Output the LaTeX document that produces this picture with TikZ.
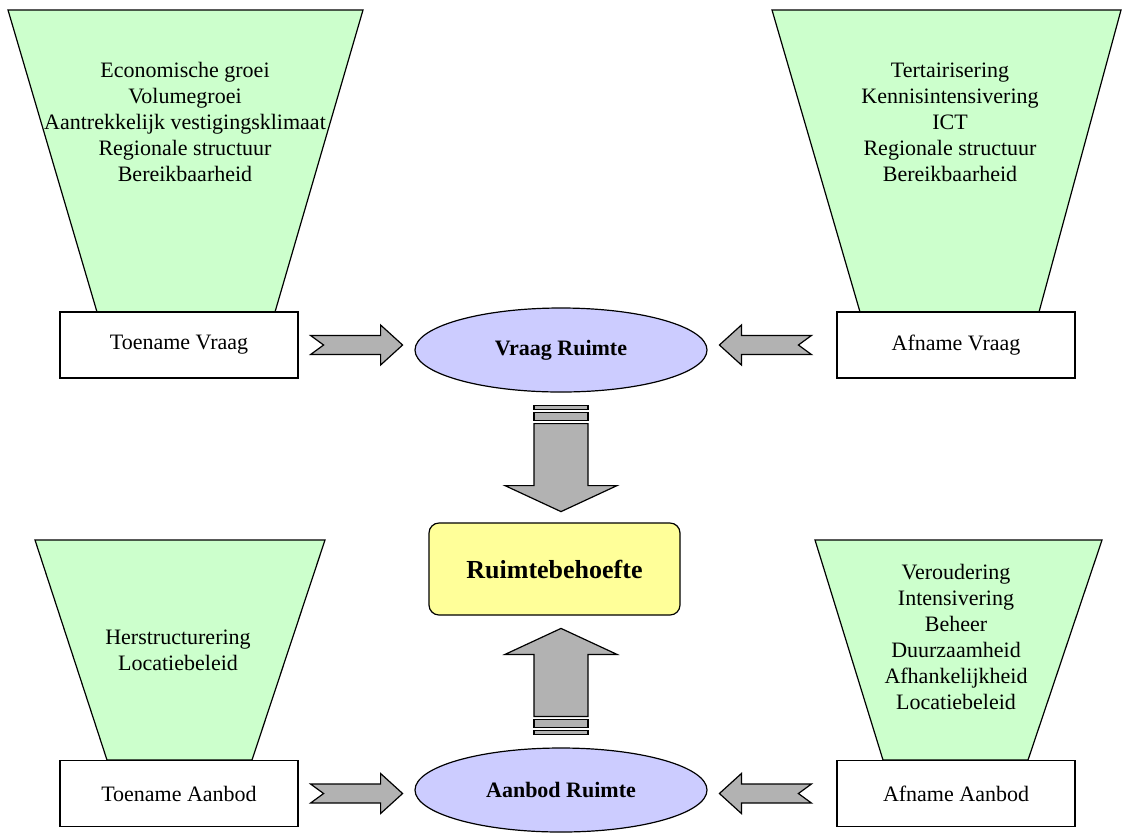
\documentclass[tikz,border=0pt]{standalone}
\usepackage{fontspec}
\setmainfont{Liberation Serif}
\usetikzlibrary{shapes.geometric,calc}
\definecolor{funnelgreen}{HTML}{CCFFCC}
\definecolor{ovalblue}{HTML}{CCCCFF}
\definecolor{boxyellow}{HTML}{FFFF99}
\definecolor{arrgray}{HTML}{B2B2B2}
\tikzset{
  funnel/.style={draw=black, line width=0.6pt, fill=funnelgreen},
  ftext/.style={align=center, font=\fontsize{11}{13}\selectfont, inner sep=0pt},
  rbox/.style={draw=black, line width=0.6pt, fill=white, minimum width=119pt, minimum height=33pt, inner sep=0pt, font=\fontsize{11}{13}\selectfont},
  oval/.style={ellipse, draw=black, line width=0.6pt, fill=ovalblue, minimum width=146pt, minimum height=42pt, inner sep=0pt, font=\fontsize{11}{13}\selectfont\bfseries},
  ybox/.style={draw=black, line width=0.6pt, fill=boxyellow, rounded corners=5pt, minimum width=125.5pt, minimum height=46pt, inner sep=0pt, font=\fontsize{13}{15}\selectfont\bfseries},
  barr/.style={draw=black, line width=0.6pt, fill=arrgray, line join=miter},
  notcharr/.pic={\path[barr] (0,-9.5) -- (70,-9.5) -- (70,-20) -- (92,0) -- (70,20) -- (70,9.5) -- (0,9.5) -- (13,0) -- cycle;},
  stripearr/.pic={
    \path[barr] (-27,0) rectangle (27,4);
    \path[barr] (-27,7) rectangle (27,15);
    \path[barr] (-27,18) -- (27,18) -- (27,80) -- (56,80) -- (0,106) -- (-56,80) -- (-27,80) -- cycle;}
}
\begin{document}
\begin{tikzpicture}[x=0.5pt, y=-0.5pt]
\useasboundingbox (0,0) rectangle (1122,836);
% funnels
\path[funnel] (8,10) -- (363,10) -- (275,312) -- (97,312) -- cycle;
\path[funnel] (772,10) -- (1121,10) -- (1039,312) -- (860,312) -- cycle;
\path[funnel] (35,540) -- (325,540) -- (252,760) -- (107,760) -- cycle;
\path[funnel] (815,540) -- (1102,540) -- (1028,760) -- (883,760) -- cycle;
\node[ftext] (fvt) at (185,122) {Economische groei\\Volumegroei\\Aantrekkelijk vestigingsklimaat\\Regionale structuur\\Bereikbaarheid};
\node[ftext] (fva) at (950,122) {Tertairisering\\Kennisintensivering\\ICT\\Regionale structuur\\Bereikbaarheid};
\node[ftext] (fat) at (178,650) {Herstructurering\\Locatiebeleid};
\node[ftext] (faa) at (956,637) {Veroudering\\Intensivering\\Beheer\\Duurzaamheid\\Afhankelijkheid\\Locatiebeleid};
% boxes and ovals
\node[rbox] (tv) at (179,345) {Toename Vraag};
\node[rbox] (av) at (956,345) {Afname Vraag};
\node[rbox] (ta) at (179,793.5) {Toename Aanbod};
\node[rbox] (aa) at (956,793.5) {Afname Aanbod};
\node[oval] (vr) at (561,350) {Vraag Ruimte};
\node[oval] (ar) at (561,790) {Aanbod Ruimte};
\node[ybox] (rb) at (554.5,569) {Ruimtebehoefte};
% block arrows
\pic at ($(tv.east)+(12,0)$) {notcharr};
\pic[rotate=180] at ($(av.west)+(-25,0)$) {notcharr};
\pic at ($(ta.east)+(12,0)$) {notcharr};
\pic[rotate=180] at ($(aa.west)+(-25,0)$) {notcharr};
\pic at ($(vr.south)+(0,13)$) {stripearr};
\pic[rotate=180] at ($(ar.north)+(0,-13)$) {stripearr};
\end{tikzpicture}
\end{document}
